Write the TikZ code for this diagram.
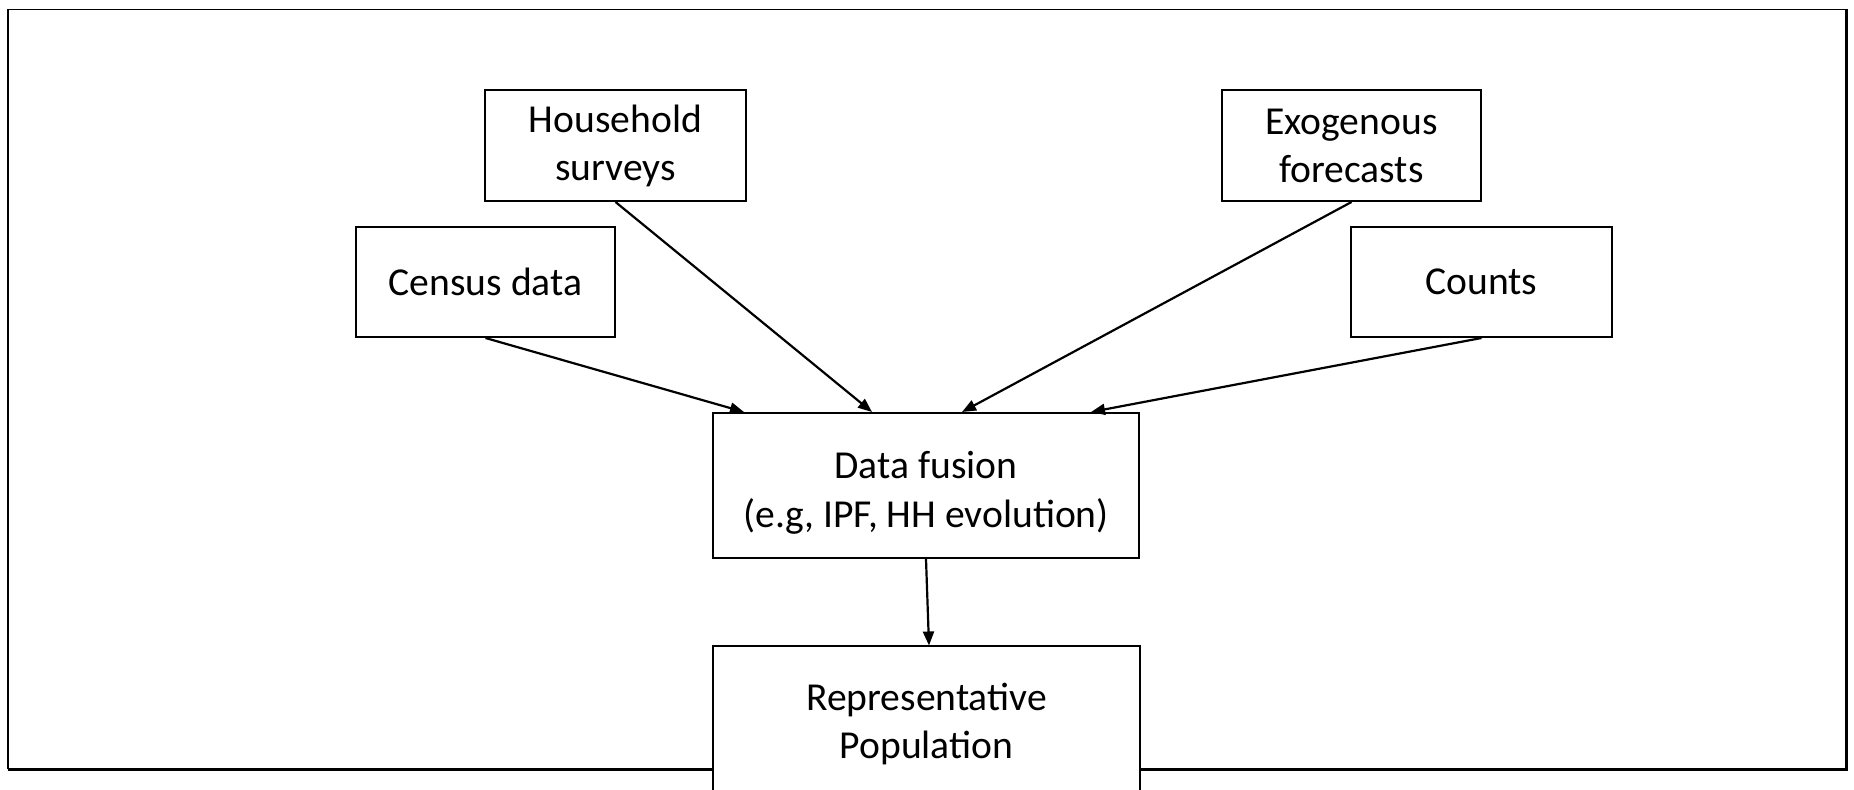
\documentclass[tikz,border=0pt]{standalone}
\usepackage{fontspec}
\setmainfont{Carlito}
\usetikzlibrary{arrows.meta}
\tikzset{
  box/.style={draw=black, line width=1pt, fill=white, inner sep=0pt, align=center,
    font=\fontsize{19.8}{24}\selectfont},
  txt/.style={inner sep=0pt, align=center, font=\fontsize{19.8}{24.5}\selectfont},
  link/.style={line width=1.1pt, -{Triangle[length=7pt,width=5.5pt]}},
}
\begin{document}
\begin{tikzpicture}[x=0.5pt,y=-0.5pt]
\clip (0,0) rectangle (1854,790);
\fill[white] (0,0) rectangle (1854,790);
% outer frame
\draw[line width=0.75pt] (8,769.3) -- (8,9.3) -- (1846,9.3);
\draw[line width=1.5pt] (1846,9.3) -- (1846,769.3) -- (8,769.3);
% nodes
\node[box, minimum width=130.5pt, minimum height=55.5pt] (hh) at (615.5,145.5) {Household\\surveys};
\node[box, minimum width=129.5pt, minimum height=55pt] (cen) at (485.5,282) {Census data};
\node[box, minimum width=129.5pt, minimum height=55.5pt] (exo) at (1351.5,145.5) {Exogenous\\forecasts};
\node[box, minimum width=130.5pt, minimum height=55pt] (cnt) at (1481.5,282) {Counts};
\node[box, minimum width=213pt, minimum height=72.5pt] (df) at (926,485.5) {};
\node[txt] (dft) at ([yshift=-3.5pt]df.center) {Data fusion\\ (e.g, IPF, HH evolution)};
\node[box, minimum width=213.5pt, minimum height=72.5pt] (rep) at (926.5,719) {};
\node[txt] (rept) at ([yshift=-2.5pt]rep.center) {Representative\\Population};
% connectors
\draw[link] (cen.south) -- ([xshift=16pt]df.north west);
\draw[link] (hh.south) -- ([xshift=80pt]df.north west);
\draw[link] (exo.south) -- ([xshift=125pt]df.north west);
\draw[link] (cnt.south) -- ([xshift=189.5pt]df.north west);
\draw[link] (df.south) -- ([xshift=1.25pt]rep.north);
\end{tikzpicture}
\end{document}
